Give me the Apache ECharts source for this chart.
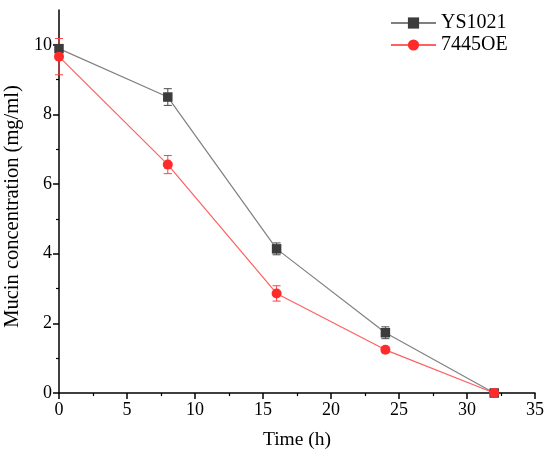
<!DOCTYPE html>
<html>
<head>
<meta charset="utf-8">
<script src="https://cdn.jsdelivr.net/npm/echarts@6/dist/echarts.min.js"></script>
<style>
html,body{margin:0;padding:0;background:#fff;}
#chart{width:550px;height:459px;}
</style>
</head>
<body>
<div id="chart"></div>
<script>
// ---- data ----
const timeH = [0, 8, 16, 24, 32];
const ys1021 = [9.89, 8.50, 4.14, 1.73, 0.0];
const ys1021Err = [0.10, 0.24, 0.17, 0.17, 0.02];
const oe7445 = [9.66, 6.56, 2.86, 1.24, 0.0];
const oe7445Err = [0.52, 0.26, 0.22, 0.08, 0.02];
const xTicks = [0, 5, 10, 15, 20, 25, 30, 35];
const yMajor = [0, 2, 4, 6, 8, 10];
const yMinor = [1, 3, 5, 7, 9];

const FONT = '"Liberation Serif", "Times New Roman", serif';

function pairs(xs, ys) { return xs.map((x, i) => [x, ys[i]]); }
function errData(xs, ys, es) { return xs.map((x, i) => [x, ys[i] - es[i], ys[i] + es[i]]); }

function makeErr(color) {
  return function (params, api) {
    const x = api.value(0);
    const lo = api.coord([x, api.value(1)]);
    const hi = api.coord([x, api.value(2)]);
    const w = 4;
    const st = { stroke: color, lineWidth: 1 };
    return {
      type: 'group',
      children: [
        { type: 'line', shape: { x1: lo[0], y1: lo[1], x2: hi[0], y2: hi[1] }, style: st },
        { type: 'line', shape: { x1: lo[0] - w, y1: lo[1], x2: lo[0] + w, y2: lo[1] }, style: st },
        { type: 'line', shape: { x1: hi[0] - w, y1: hi[1], x2: hi[0] + w, y2: hi[1] }, style: st }
      ]
    };
  };
}

const chart = echarts.init(document.getElementById('chart'), null, { renderer: 'canvas' });
const axisLineStyle = { color: '#000', width: 1.5 };

chart.setOption({
  animation: false,
  backgroundColor: '#fff',
  textStyle: { fontFamily: FONT },
  grid: { left: 59, right: 15, top: 10, bottom: 66, outerBoundsMode: 'none', containLabel: false },
  legend: {
    data: ['YS1021', '7445OE'],
    orient: 'vertical',
    left: 390,
    top: 13,
    padding: 0,
    itemWidth: 45,
    itemHeight: 14,
    itemGap: 2,
    textStyle: { fontFamily: FONT, fontSize: 20, color: '#000' }
  },
  xAxis: {
    type: 'value',
    min: 0, max: 35, interval: 5,
    name: 'Time (h)',
    nameLocation: 'middle',
    nameGap: 37,
    nameTextStyle: { fontFamily: FONT, fontSize: 19.5, color: '#000' },
    axisLine: { show: true, onZero: false, lineStyle: axisLineStyle },
    axisTick: { show: true, inside: false, length: 6, lineStyle: { color: '#000', width: 1.5 } },
    minorTick: { show: true, splitNumber: 2, length: 3, lineStyle: { color: '#000', width: 1.2 } },
    axisLabel: { fontFamily: FONT, fontSize: 18, color: '#000', margin: 8 },
    splitLine: { show: false },
    minorSplitLine: { show: false }
  },
  yAxis: [
    {
      type: 'value',
      min: 0, max: 11,
      name: 'Mucin concentration (mg/ml)',
      nameLocation: 'middle',
      nameGap: 36,
      nameTextStyle: { fontFamily: FONT, fontSize: 20.5, color: '#000', padding: [0, 10, 0, 0] },
      axisLine: { show: true, onZero: false, lineStyle: axisLineStyle },
      axisTick: { show: true, inside: false, length: 6, customValues: yMajor, lineStyle: { color: '#000', width: 1.5 } },
      axisLabel: { fontFamily: FONT, fontSize: 18, color: '#000', margin: 7, customValues: yMajor },
      splitLine: { show: false }
    },
    {
      type: 'value',
      min: 0, max: 11,
      position: 'left',
      axisLine: { show: false },
      axisTick: { show: true, inside: false, length: 3, customValues: yMinor, lineStyle: { color: '#000', width: 1.2 } },
      axisLabel: { show: false },
      splitLine: { show: false }
    }
  ],
  series: [
    {
      name: 'YS1021-err', type: 'custom', z: 2,
      renderItem: makeErr('#4a4a4a'),
      data: errData(timeH, ys1021, ys1021Err),
      encode: { x: 0, y: [1, 2] },
      silent: true
    },
    {
      name: '7445OE-err', type: 'custom', z: 2,
      renderItem: makeErr('#ff4040'),
      data: errData(timeH, oe7445, oe7445Err),
      encode: { x: 0, y: [1, 2] },
      silent: true
    },
    {
      name: 'YS1021', type: 'line', z: 3,
      data: pairs(timeH, ys1021),
      symbol: 'rect', symbolSize: 9.5,
      lineStyle: { color: '#808080', width: 1.2 },
      itemStyle: { color: '#3c3c3c', borderWidth: 0 },
      clip: false
    },
    {
      name: '7445OE', type: 'line', z: 3,
      data: pairs(timeH, oe7445),
      symbol: 'circle', symbolSize: 10,
      lineStyle: { color: '#ff6060', width: 1.2 },
      itemStyle: { color: '#ff2b2b', borderWidth: 0 },
      clip: false
    }
  ]
});
</script>
</body>
</html>
